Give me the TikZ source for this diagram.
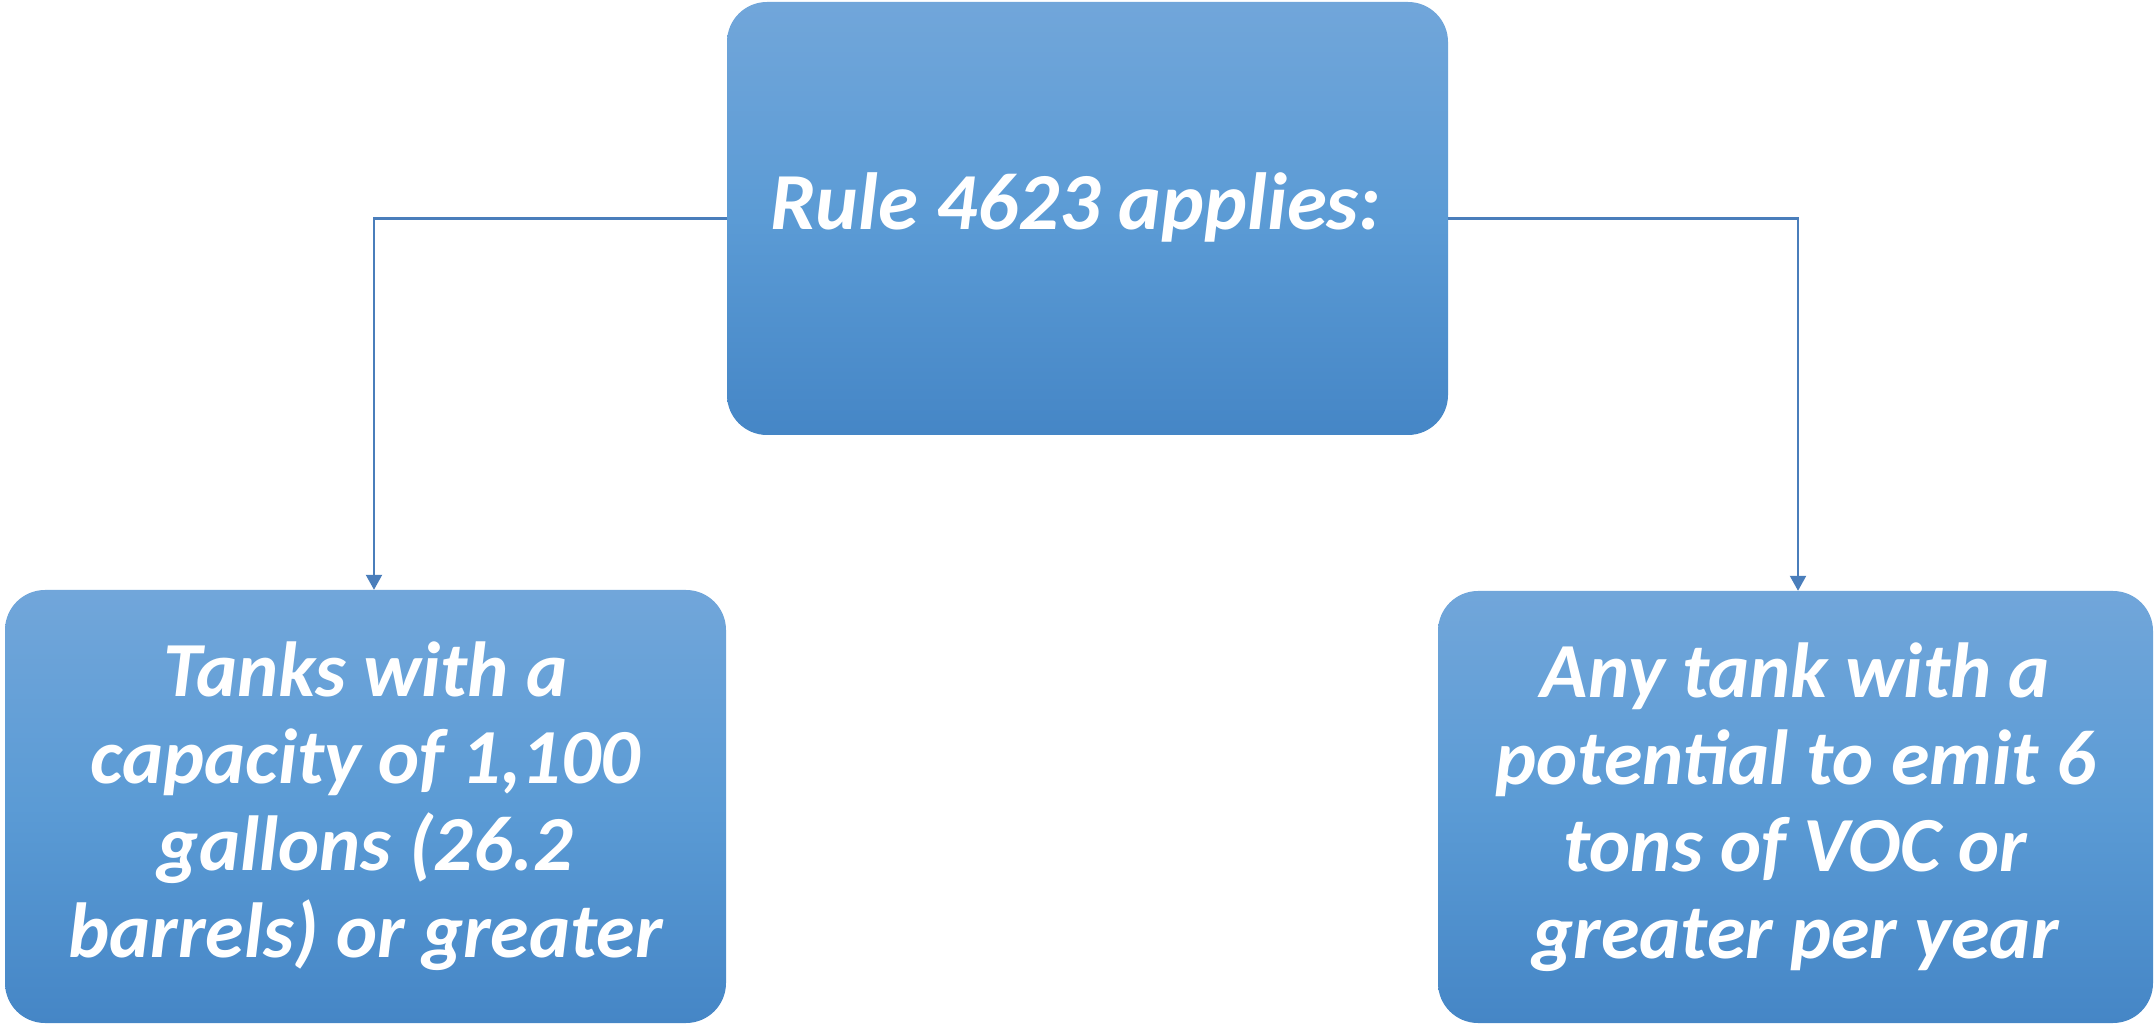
\documentclass[tikz,border=0pt]{standalone}
\usepackage{fontspec}
\setmainfont{Carlito}
\usetikzlibrary{arrows.meta}
\definecolor{boxtop}{HTML}{71A6DA}
\definecolor{boxmid}{HTML}{5B9BD5}
\definecolor{boxbot}{HTML}{4586C6}
\definecolor{linkblue}{HTML}{4A7EBB}
\tikzset{
  rulebox/.style={rounded corners=40pt, top color=boxtop, bottom color=boxbot,
    middle color=boxmid, draw=none, inner sep=0pt, text=white, align=center,
    font=\fontsize{78}{87}\selectfont\bfseries\itshape},
  link/.style={draw=linkblue, line width=2.2pt,
    -{Triangle[width=16pt,length=15pt]}}
}
\begin{document}
\begin{tikzpicture}[x=1pt,y=1pt]
  \useasboundingbox (0,0) rectangle (2156,1026);
  % parent rule
  \node[rulebox, minimum width=721pt, minimum height=433pt] (rule) at (1087.5,807.5) {};
  \node[text=white, inner sep=0pt, font=\fontsize{81}{90}\selectfont\bfseries\itshape]
    (ruletext) at ([xshift=-12pt,yshift=11pt]rule.center) {Rule 4623 applies:};
  % the two applicability conditions
  \node[rulebox, minimum width=721pt, minimum height=433pt] (cap) at (365.5,219.5)
    {Tanks with a\\ capacity of 1,100\\ gallons (26.2\\ barrels) or greater};
  \node[rulebox, minimum width=715pt, minimum height=432pt] (emit) at (1795.5,219)
    {Any tank with a\\ potential to emit 6\\ tons of VOC or\\ greater per year};
  % connectors
  \draw[link] (rule.west) -| ([xshift=8.5pt]cap.north);
  \draw[link] (rule.east) -| ([xshift=2.5pt]emit.north);
\end{tikzpicture}
\end{document}
